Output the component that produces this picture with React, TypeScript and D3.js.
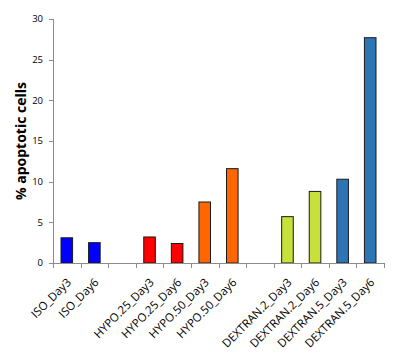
import React from "react";
import * as d3 from "d3";

const categories = [
  "ISO_Day3", "ISO_Day6", "",
  "HYPO.25_Day3", "HYPO.25_Day6", "HYPO.50_Day3", "HYPO.50_Day6", " ",
  "DEXTRAN.2_Day3", "DEXTRAN.2_Day6", "DEXTRAN.5_Day3", "DEXTRAN.5_Day6",
];
const values: (number | null)[] = [3.1, 2.5, null, 3.2, 2.4, 7.5, 11.6, null, 5.7, 8.8, 10.3, 27.7];
const colors = ["#0000FF", "#0000FF", "", "#FF0000", "#FF0000", "#FF6600", "#FF6600", "", "#C8E03A", "#C8E03A", "#2E75B6", "#2E75B6"];
const yTicks = [0, 5, 10, 15, 20, 25, 30];

const W = 405, H = 363;
const margin = { left: 53, right: 21, top: 19, bottom: 100 };

export default function App() {
  const x = d3.scaleBand<string>().domain(categories).range([margin.left, W - margin.right]).paddingInner(0.58).paddingOuter(0.29);
  const slot = d3.scaleBand<string>().domain(categories).range([margin.left, W - margin.right]);
  const y = d3.scaleLinear().domain([0, 30]).range([H - margin.bottom, margin.top]);
  const font = "'Open Sans', 'Liberation Sans', sans-serif";
  const axisColor = "#8c8c8c";
  return (
    <svg width={W} height={H} style={{ position: "absolute", left: 0, top: 0 }} fontFamily={font}>
      <rect width={W} height={H} fill="#fff" />
      {/* y axis */}
      <line x1={margin.left + 0.5} x2={margin.left + 0.5} y1={y(30)} y2={y(0)} stroke={axisColor} />
      {yTicks.map((t) => (
        <g key={t}>
          <line x1={margin.left - 4} x2={margin.left} y1={Math.round(y(t)) + 0.5} y2={Math.round(y(t)) + 0.5} stroke={axisColor} />
          <text x={margin.left - 10} y={y(t)} dy="0.35em" textAnchor="end" fontSize={9.5} fill="#000">{t}</text>
        </g>
      ))}
      {/* bars */}
      {categories.map((c, i) =>
        values[i] == null ? null : (
          <rect key={c + i} x={x(c)!} y={y(values[i] as number)} width={x.bandwidth()} height={y(0) - y(values[i] as number)}
            fill={colors[i]} stroke="#1a1a1a" strokeWidth={1} />
        )
      )}
      {/* x axis */}
      <line x1={margin.left} x2={W - margin.right} y1={Math.round(y(0)) + 0.5} y2={Math.round(y(0)) + 0.5} stroke={axisColor} />
      {categories.concat(["__end"]).map((c, i) => {
        const px = Math.round(margin.left + i * slot.step()) + 0.5;
        return <line key={"t" + i} x1={px} x2={px} y1={y(0)} y2={y(0) + 5} stroke={axisColor} />;
      })}
      {categories.map((c, i) =>
        c.trim() === "" ? null : (
          <text key={"l" + i} transform={`translate(${slot(c)! + slot.bandwidth() / 2 + 5},${y(0) + 20}) rotate(-45)`}
            textAnchor="end" fontSize={11.5} fill="#000">{c}</text>
        )
      )}
      <text transform={`translate(26,${(y(0) + y(30)) / 2}) rotate(-90)`} textAnchor="middle" fontSize={14} fontWeight="bold" fill="#000">% apoptotic cells</text>
    </svg>
  );
}
